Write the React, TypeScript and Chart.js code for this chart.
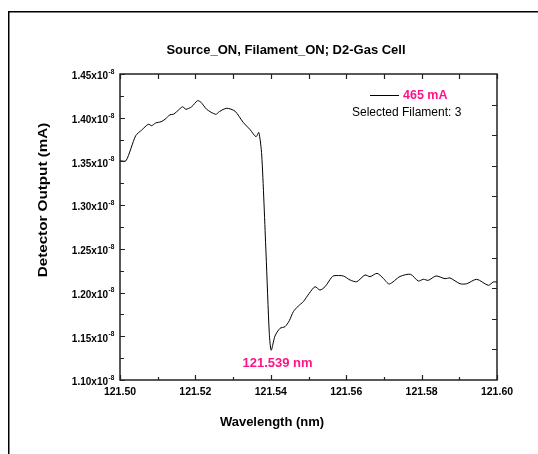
import { useEffect, useRef } from 'react';
import { Chart, registerables } from 'chart.js';

Chart.register(...registerables);

// Wavelength (nm)
const wavelengthNm = [
  121.5, 121.5016, 121.50416, 121.50576, 121.50751, 121.50841, 121.50947, 121.51088,
  121.51194, 121.51326, 121.51414, 121.51504, 121.51663, 121.51743, 121.51902, 121.52056,
  121.52149, 121.523, 121.52538, 121.52639, 121.5283, 121.5305, 121.53271, 121.53448,
  121.53607, 121.53682, 121.53759, 121.53873, 121.5396, 121.54011, 121.54111, 121.54244,
  121.54377, 121.54491, 121.54597, 121.5473, 121.54862, 121.55021, 121.55172, 121.55305,
  121.55438, 121.55615, 121.55676, 121.55923, 121.56101, 121.56279, 121.56499, 121.56631,
  121.56817, 121.56984, 121.57143, 121.57427, 121.57706, 121.57912, 121.58045, 121.58178,
  121.58382, 121.58621, 121.58753, 121.59019, 121.59196, 121.59462, 121.59769, 121.59902,
  121.6,
];

// Detector output, in units of 1e-8 mA
const detectorOutputE8 = [
  1.3508, 1.3508, 1.3794, 1.3859, 1.3925, 1.3909, 1.394, 1.3954,
  1.3982, 1.4034, 1.4039, 1.4069, 1.4126, 1.4096, 1.4126, 1.4195,
  1.4176, 1.4096, 1.4039, 1.4071, 1.4108, 1.4075, 1.3945, 1.3865,
  1.3783, 1.3831, 1.3574, 1.2453, 1.1534, 1.134, 1.1503, 1.1591,
  1.161, 1.1678, 1.1781, 1.1846, 1.1896, 1.1992, 1.2067, 1.2029,
  1.2067, 1.2175, 1.2193, 1.219, 1.2144, 1.2124, 1.2201, 1.2182,
  1.222, 1.2163, 1.2098, 1.2184, 1.2209, 1.2132, 1.2152, 1.214,
  1.219, 1.2159, 1.2167, 1.2101, 1.2101, 1.2152, 1.2083, 1.2121,
  1.2121,
];

const xTickValues = [121.5, 121.52, 121.54, 121.56, 121.58, 121.6];
const xTickLabels = ['121.50', '121.52', '121.54', '121.56', '121.58', '121.60'];
const yTickValues = [1.1, 1.15, 1.2, 1.25, 1.3, 1.35, 1.4, 1.45];
const yTickLabels = ['1.10', '1.15', '1.20', '1.25', '1.30', '1.35', '1.40', '1.45'];
const yExponent = '-8';

const chartTitle = 'Source_ON, Filament_ON; D2-Gas Cell';
const xTitle = 'Wavelength (nm)';
const yTitle = 'Detector Output (mA)';
const legendLabel = '465 mA';
const legendNote = 'Selected Filament: 3';
const peakLabel = '121.539 nm';

const PINK = '#ff1488';
const FONT = '"Liberation Sans", Arial, sans-serif';

const decorPlugin = {
  id: 'decor',
  afterDraw(chart: any) {
    const ctx: CanvasRenderingContext2D = chart.ctx;
    const { left, right, top, bottom } = chart.chartArea;
    const xs = chart.scales.x;
    const ys = chart.scales.y;
    ctx.save();

    // outer frame
    ctx.strokeStyle = '#000';
    ctx.lineWidth = 1.5;
    ctx.strokeRect(8.75, 11.75, 700, 700);

    // plot box
    ctx.strokeStyle = '#222';
    ctx.lineWidth = 1.5;
    ctx.strokeRect(left, top, right - left, bottom - top);

    ctx.lineWidth = 1.2;
    ctx.beginPath();
    // bottom & top ticks
    for (let i = 0; i <= 10; i++) {
      const v = 121.5 + i * 0.01;
      const px = Math.round(xs.getPixelForValue(v)) + 0.5;
      const len = i % 2 === 0 ? 5 : 3;
      ctx.moveTo(px, bottom);
      ctx.lineTo(px, bottom - len);
      ctx.moveTo(px, top);
      ctx.lineTo(px, top + 5);
    }
    // left ticks
    for (let i = 0; i <= 14; i++) {
      const v = 1.1 + i * 0.025;
      const py = Math.round(ys.getPixelForValue(v)) + 0.5;
      const len = i % 2 === 0 ? 5 : 4;
      ctx.moveTo(left, py);
      ctx.lineTo(left + len, py);
    }
    // right ticks (10 divisions)
    for (let i = 1; i < 10; i++) {
      const v = 1.1 + i * 0.035;
      const py = Math.round(ys.getPixelForValue(v)) + 0.5;
      ctx.moveTo(right, py);
      ctx.lineTo(right - 5, py);
    }
    ctx.stroke();

    ctx.fillStyle = '#000';
    // x tick labels
    ctx.font = `bold 10.5px ${FONT}`;
    ctx.textAlign = 'center';
    ctx.textBaseline = 'middle';
    xTickValues.forEach((v, i) => {
      ctx.fillText(xTickLabels[i], xs.getPixelForValue(v), bottom + 12.5);
    });

    // y tick labels with superscript exponent
    yTickValues.forEach((v, i) => {
      const py = ys.getPixelForValue(v);
      ctx.font = `bold 10px ${FONT}`;
      ctx.textAlign = 'right';
      ctx.textBaseline = 'middle';
      ctx.fillText(yTickLabels[i] + 'x10', left - 12, py + 2.5);
      ctx.font = `bold 6.5px ${FONT}`;
      ctx.textAlign = 'left';
      ctx.fillText(yExponent, left - 11.5, py - 2);
    });

    // title
    ctx.font = `bold 13px ${FONT}`;
    ctx.textAlign = 'center';
    ctx.textBaseline = 'middle';
    ctx.fillText(chartTitle, 286, 50);

    // x title
    ctx.fillText(xTitle, 272, 422);

    // y title
    ctx.save();
    ctx.translate(43, 200);
    ctx.rotate(-Math.PI / 2);
    ctx.scale(1.17, 1);
    ctx.fillText(yTitle, 0, 0);
    ctx.restore();

    // legend
    ctx.strokeStyle = '#000';
    ctx.lineWidth = 1;
    ctx.beginPath();
    ctx.moveTo(370, 95.5);
    ctx.lineTo(399, 95.5);
    ctx.stroke();
    ctx.fillStyle = PINK;
    ctx.font = `bold 12.5px ${FONT}`;
    ctx.textAlign = 'left';
    ctx.fillText(legendLabel, 403, 95.5);
    ctx.fillStyle = '#000';
    ctx.font = `12px ${FONT}`;
    ctx.fillText(legendNote, 352, 112.5);

    // peak annotation
    ctx.fillStyle = PINK;
    ctx.font = `bold 13px ${FONT}`;
    ctx.textAlign = 'center';
    ctx.fillText(peakLabel, 277.5, 363.5);

    ctx.restore();
  },
};

export default function App() {
  const ref = useRef<HTMLCanvasElement | null>(null);

  useEffect(() => {
    if (!ref.current) return;
    const points = wavelengthNm.map((x, i) => ({ x, y: detectorOutputE8[i] }));
    const chart = new Chart(ref.current, {
      type: 'scatter',
      data: {
        datasets: [
          {
            label: legendLabel,
            data: points,
            showLine: true,
            borderColor: '#000',
            borderWidth: 1,
            pointRadius: 0,
            tension: 0.25,
            fill: false,
          },
        ],
      },
      options: {
        animation: false,
        responsive: false,
        maintainAspectRatio: false,
        events: [],
        layout: { padding: { left: 120, right: 41, top: 74, bottom: 74 } },
        plugins: {
          legend: { display: false },
          title: { display: false },
          tooltip: { enabled: false },
        },
        scales: {
          x: { type: 'linear', display: false, min: 121.5, max: 121.6 },
          y: { type: 'linear', display: false, min: 1.1, max: 1.45 },
        },
      },
      plugins: [decorPlugin],
    });
    return () => chart.destroy();
  }, []);

  return (
    <div style={{ position: 'fixed', left: 0, top: 0, width: 538, height: 454, background: '#fff' }}>
      <canvas ref={ref} width={538} height={454} style={{ display: 'block', width: 538, height: 454 }} />
    </div>
  );
}
